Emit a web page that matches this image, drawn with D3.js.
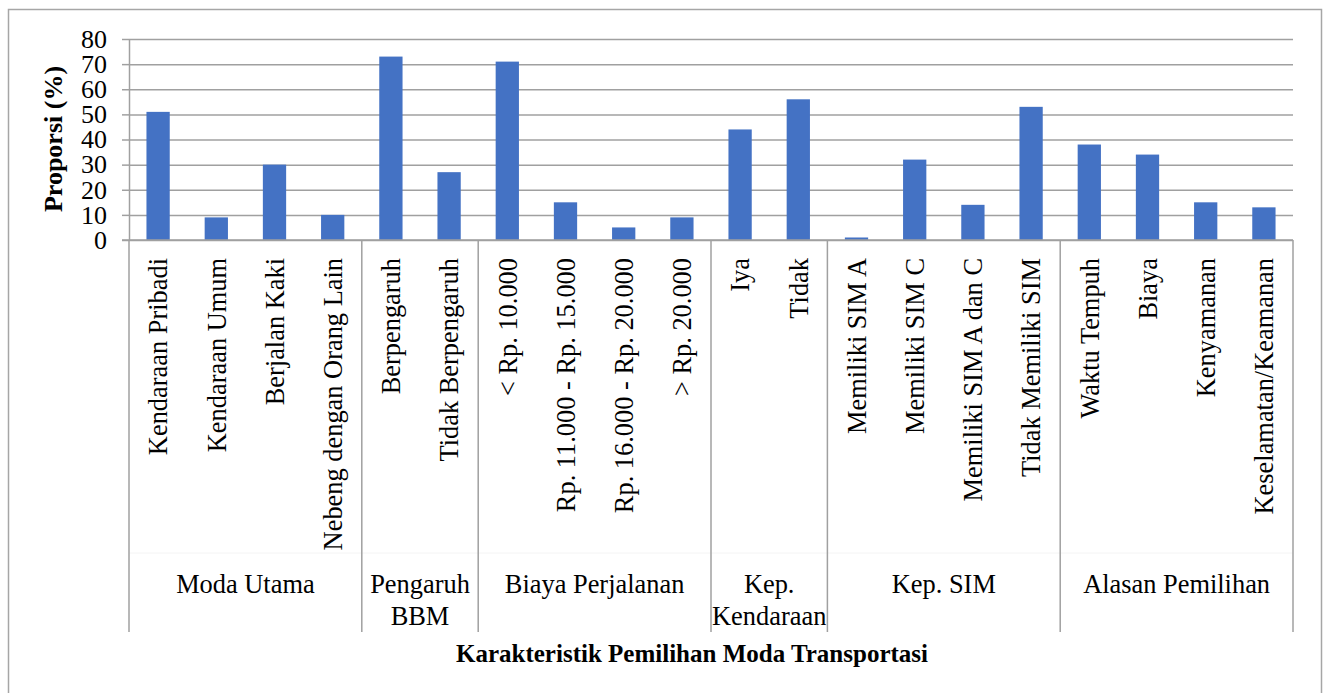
<!DOCTYPE html>
<html>
<head>
<meta charset="utf-8">
<script src="https://cdn.jsdelivr.net/npm/d3@7"></script>
<style>
  body { margin: 0; background: #fff; }
  svg text { font-family: "Liberation Serif", "Times New Roman", serif; fill: #000; }
</style>
</head>
<body>
<div id="chart"></div>
<script>
// data
var categories = [
    "Kendaraan Pribadi", "Kendaraan Umum", "Berjalan Kaki", "Nebeng dengan Orang Lain",
    "Berpengaruh", "Tidak Berpengaruh",
    "< Rp. 10.000", "Rp. 11.000 - Rp. 15.000", "Rp. 16.000 - Rp. 20.000", "> Rp. 20.000",
    "Iya", "Tidak",
    "Memiliki SIM A", "Memiliki SIM C", "Memiliki SIM A dan C", "Tidak Memiliki SIM",
    "Waktu Tempuh", "Biaya", "Kenyamanan", "Keselamatan/Keamanan"
];
var values = [51, 9, 30, 10, 73, 27, 71, 15, 5, 9, 44, 56, 1, 32, 14, 53, 38, 34, 15, 13];
var groups = [["Moda Utama"], ["Pengaruh", "BBM"], ["Biaya Perjalanan"], ["Kep.", "Kendaraan"], ["Kep. SIM"], ["Alasan Pemilihan"]];
var groupSizes = [4, 2, 4, 2, 4, 4];
var yTicks = [0, 10, 20, 30, 40, 50, 60, 70, 80];

var width = 1325;
var height = 693;
var plotLeft = 129, plotRight = 1293, plotTop = 39, plotBottom = 240;

var svg = d3.select("#chart").append("svg")
    .attr("width", width)
    .attr("height", height);

// outer frame
svg.append("rect")
    .attr("x", 8.5).attr("y", 9.5)
    .attr("width", 1313).attr("height", 700)
    .style("fill", "none")
    .style("stroke", "#a6a6a6")
    .style("stroke-width", 1.5);

var x = d3.scaleBand()
    .domain(categories)
    .range([plotLeft, plotRight])
    .paddingInner(0.6)
    .paddingOuter(0.3);

var y = d3.scaleLinear()
    .domain([0, 80])
    .range([plotBottom, plotTop]);

// gridlines
svg.append("g")
    .attr("transform", "translate(" + plotLeft + ",0)")
    .call(d3.axisLeft(y).tickValues(yTicks).tickSize(-(plotRight - plotLeft)).tickFormat(""))
    .call(g => g.select(".domain").remove())
    .call(g => g.selectAll("line").style("stroke", "#a0a0a0").style("stroke-width", 1.5));

// y axis
var yAxis = svg.append("g")
    .attr("transform", "translate(" + plotLeft + ",0)")
    .call(d3.axisLeft(y).tickValues(yTicks).tickSize(7).tickSizeOuter(0).tickPadding(15));
yAxis.select(".domain").style("stroke", "#a0a0a0").style("stroke-width", 1.5);
yAxis.selectAll("line").style("stroke", "#a0a0a0").style("stroke-width", 1.5);
yAxis.selectAll("text")
    .style("font-size", "26px")
    .style("font-family", "Liberation Serif");

// bars
svg.selectAll(".bar")
    .data(values)
    .enter().append("rect")
    .attr("class", "bar")
    .attr("x", (d, i) => x(categories[i]))
    .attr("y", d => y(d))
    .attr("width", x.bandwidth())
    .attr("height", d => y(0) - y(d))
    .style("fill", "#4472c4");

// baseline
svg.append("line")
    .attr("x1", plotLeft - 7).attr("x2", plotRight)
    .attr("y1", y(0)).attr("y2", y(0))
    .style("stroke", "#a0a0a0")
    .style("stroke-width", 1.5);

// faint separator between label levels
svg.append("line")
    .attr("x1", plotLeft).attr("x2", plotRight)
    .attr("y1", 553).attr("y2", 553)
    .style("stroke", "#f4f4f4")
    .style("stroke-width", 1);

// category labels
svg.selectAll(".cat")
    .data(categories)
    .enter().append("text")
    .attr("class", "cat")
    .attr("transform", d => "translate(" + (x(d) + x.bandwidth() / 2) + ",258) rotate(-90)")
    .attr("dy", "0.35em")
    .style("text-anchor", "end")
    .style("font-size", "26.4px")
    .text(d => d);

// group separators and labels
var gap = (x.step() - x.bandwidth()) / 2;
var start = 0;
var bounds = [plotLeft];
groupSizes.forEach(function (n, gi) {
    var x0 = x(categories[start]) - gap;
    var x1 = x(categories[start + n - 1]) + x.bandwidth() + gap;
    bounds.push(x1);
    var t = svg.append("text")
        .attr("x", (x0 + x1) / 2)
        .attr("y", 593)
        .style("text-anchor", "middle")
        .style("font-size", "26.4px");
    groups[gi].forEach(function (line, li) {
        t.append("tspan")
            .attr("x", (x0 + x1) / 2)
            .attr("y", 593 + li * 32)
            .text(line);
    });
    start += n;
});

svg.selectAll(".sep")
    .data(bounds)
    .enter().append("line")
    .attr("class", "sep")
    .attr("x1", d => d).attr("x2", d => d)
    .attr("y1", plotBottom).attr("y2", 632)
    .style("stroke", "#a0a0a0")
    .style("stroke-width", 1.5);

// axis titles
svg.append("text")
    .attr("transform", "translate(62,139) rotate(-90)")
    .style("text-anchor", "middle")
    .style("font-size", "26px")
    .style("font-weight", "bold")
    .text("Proporsi (%)");

svg.append("text")
    .attr("x", 692)
    .attr("y", 662)
    .style("text-anchor", "middle")
    .style("font-size", "25px")
    .style("font-weight", "bold")
    .text("Karakteristik Pemilihan Moda Transportasi");
</script>
</body>
</html>
